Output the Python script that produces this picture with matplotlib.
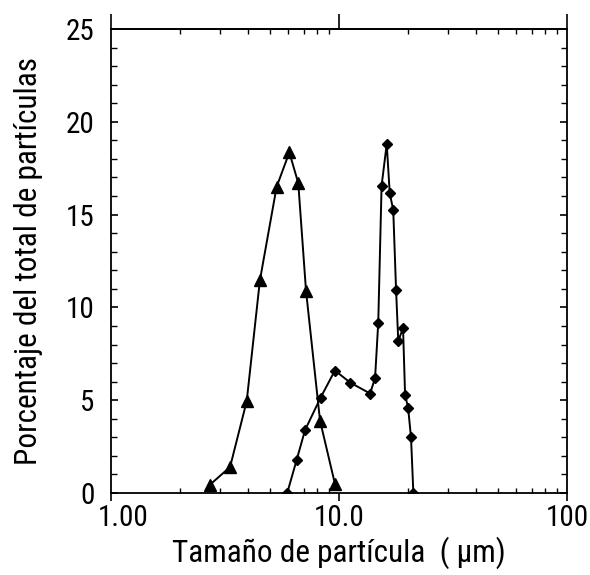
import matplotlib
matplotlib.use("Agg")
import matplotlib.pyplot as plt
import matplotlib.transforms as mtransforms
from matplotlib.ticker import FixedLocator, NullFormatter

plt.rcParams['font.family'] = ['Roboto Condensed', 'Liberation Sans', 'DejaVu Sans']

# Triangle series
tri_x = [2.72, 3.33, 3.94, 4.5, 5.33, 6.06, 6.63, 7.17, 8.26, 9.6]
tri_y = [0.45, 1.4, 4.95, 11.45, 16.5, 18.35, 16.7, 10.9, 3.9, 0.5]

# Diamond series
dia_x = [5.93, 6.52, 7.1, 8.31, 9.6, 11.2, 13.7, 14.4, 14.87, 15.38, 16.2, 16.7,
         17.3, 17.8, 18.2, 19.1, 19.5, 20.1, 20.7, 21.2]
dia_y = [0.0, 1.77, 3.39, 5.14, 6.6, 5.95, 5.36, 6.2, 9.18, 16.56, 18.8, 16.15,
         15.25, 10.95, 8.19, 8.89, 5.27, 4.6, 3.0, 0.0]

xticks = [1, 10, 100]
xticklabels = ['1.00', '10.0', '100']
yticks = [0, 5, 10, 15, 20, 25]

fig = plt.figure(figsize=(5.9, 5.75), dpi=100)
ax = fig.add_axes([0.188, 0.1426, 0.773, 0.807])

ax.plot(tri_x, tri_y, color='black', lw=1.4, marker='^', ms=8, mfc='black', mec='black')
ax.plot(dia_x, dia_y, color='black', lw=1.4, marker='D', ms=5.5, mfc='black', mec='black')

ax.set_xscale('log')
ax.set_xlim(1, 100)
ax.set_ylim(0, 25)

minor = [m * d for d in (1, 10) for m in range(2, 10)]
ax.xaxis.set_major_locator(FixedLocator(xticks))
ax.set_xticklabels(xticklabels)
ax.xaxis.set_minor_locator(FixedLocator(minor))
ax.xaxis.set_minor_formatter(NullFormatter())
ax.set_yticks(yticks)
ax.yaxis.set_minor_locator(FixedLocator([v for v in range(0, 26) if v % 5]))

ax.tick_params(axis='x', which='major', direction='out', length=6, width=1.2,
               labelsize=21, pad=2)
ax.tick_params(axis='x', which='minor', direction='in', length=3.8, width=1.0)
ax.tick_params(axis='y', which='major', direction='in', length=5, width=1.2,
               right=True, labelsize=21, pad=12)
ax.tick_params(axis='y', which='minor', direction='in', length=4, width=1.0, right=True)

# shift the "1.00" label slightly right, as in the reference
first = ax.get_xticklabels()[0]
first.set_transform(first.get_transform() +
                    mtransforms.ScaledTranslation(12 / 100, 0, fig.dpi_scale_trans))

# top axis: outward major tick at 10, inward minors
top = ax.secondary_xaxis('top')
top.xaxis.set_major_locator(FixedLocator(xticks))
top.xaxis.set_minor_locator(FixedLocator(minor))
top.xaxis.set_major_formatter(NullFormatter())
top.xaxis.set_minor_formatter(NullFormatter())
top.tick_params(which='major', direction='out', length=11, width=1.2)
top.tick_params(which='minor', direction='in', length=3.8, width=1.0)

for s in ax.spines.values():
    s.set_linewidth(1.3)
top.spines['top'].set_linewidth(1.3)

ax.set_xlabel('Tamaño de partícula  ( μm)', fontsize=22.5, labelpad=3)
ax.set_ylabel('Porcentaje del total de partículas', fontsize=22.5, labelpad=16)

fig.savefig('out.png', dpi=100)
